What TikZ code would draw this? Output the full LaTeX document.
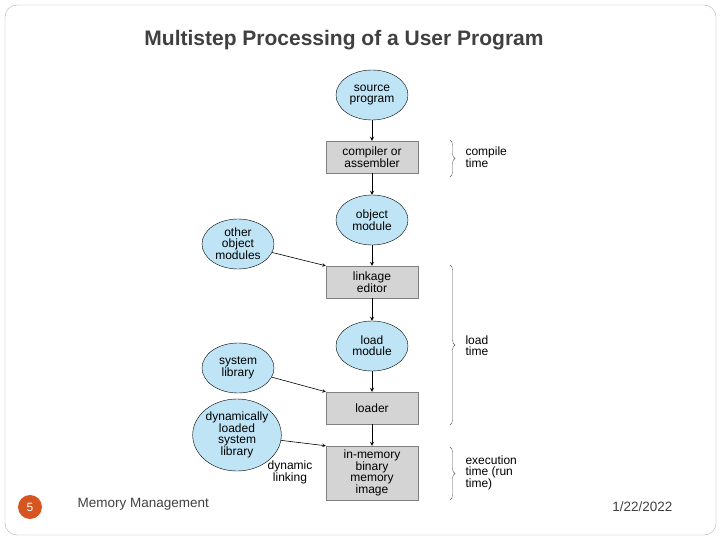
\documentclass[tikz,border=0pt]{standalone}
\usepackage{fontspec}
\setmainfont{Liberation Sans}
\usetikzlibrary{shapes.geometric,arrows,decorations.pathreplacing}
\definecolor{modblue}{RGB}{190,228,246}
\definecolor{boxgray}{RGB}{212,212,212}
\definecolor{slideorange}{RGB}{214,86,34}
\tikzstyle{module} = [ellipse, minimum width=72pt, minimum height=50pt, inner sep=0pt, align=center, draw=black, fill=modblue, font=\fontsize{12}{11}\selectfont]
\tikzstyle{stage} = [rectangle, minimum width=92pt, minimum height=32pt, inner sep=0pt, align=center, draw=gray, fill=boxgray, font=\fontsize{12}{11}\selectfont]
\tikzstyle{arrow} = [thick,->,>=stealth]
\tikzstyle{brace} = [decorate, decoration={brace, amplitude=5pt}, gray!70!black]
\tikzstyle{note} = [anchor=west, align=left, font=\fontsize{12}{11}\selectfont]

\begin{document}
\begin{tikzpicture}[x=1pt, y=-1pt]
	\useasboundingbox (0,0) rectangle (720,540);
	\draw [gray!60, rounded corners=12pt] (5,5) rectangle (716,535);

	\node (title) [text=black!75, font=\bfseries\fontsize{21}{21}\selectfont] at (344,40) {Multistep Processing of a User Program};

	\node (source) [module] at (372,95) {source\\program};
	\node (compiler) [stage] at (372,157) {compiler or\\assembler};
	\node (object) [module] at (372,220) {object\\module};
	\node (linkage) [stage] at (372,282) {linkage\\editor};
	\node (load) [module] at (372,346) {load\\module};
	\node (loader) [stage] at (372,408) {loader};
	\node (image) [stage, minimum height=54pt] at (372,473) {in-memory\\binary\\memory\\image};

	\node (other) [module] at (238,244) {other\\object\\modules};
	\node (syslib) [module] at (238,368) {system\\library};
	\node (dynlib) [module, minimum width=88pt, minimum height=72pt] at (237,435) {dynamically\\loaded\\system\\library};
	\node (dynlink) [note, anchor=center, align=center] at (290,472) {dynamic\\linking};

	\draw [arrow] (source) -- (compiler);
	\draw [arrow] (compiler) -- (object);
	\draw [arrow] (object) -- (linkage);
	\draw [arrow] (linkage) -- (load);
	\draw [arrow] (load) -- (loader);
	\draw [arrow] (loader) -- (image);
	\draw [arrow, semithick] (other) -- (linkage.north west);
	\draw [arrow, semithick] (syslib) -- (loader.north west);
	\draw [arrow, semithick] (dynlib) -- (image.north west);

	\draw [brace] (450,140) -- (450,177);
	\draw [brace] (450,265) -- (450,425);
	\draw [brace] (450,447) -- (450,500);
	\node (compiletime) [note] at (462,157) {compile\\time};
	\node (loadtime) [note] at (462,346) {load\\time};
	\node (exectime) [note] at (462,473) {execution\\time (run\\time)};

	\node (pagenum) [circle, fill=slideorange, minimum size=24pt, text=white, font=\fontsize{12}{12}\selectfont] at (30,507) {5};
	\node (footer) [anchor=west, text=black!75, font=\fontsize{13.5}{13.5}\selectfont] at (74,504) {Memory Management};
	\node (date) [anchor=east, text=black!75, font=\fontsize{13.5}{13.5}\selectfont] at (676,507) {1/22/2022};
\end{tikzpicture}
\end{document}
